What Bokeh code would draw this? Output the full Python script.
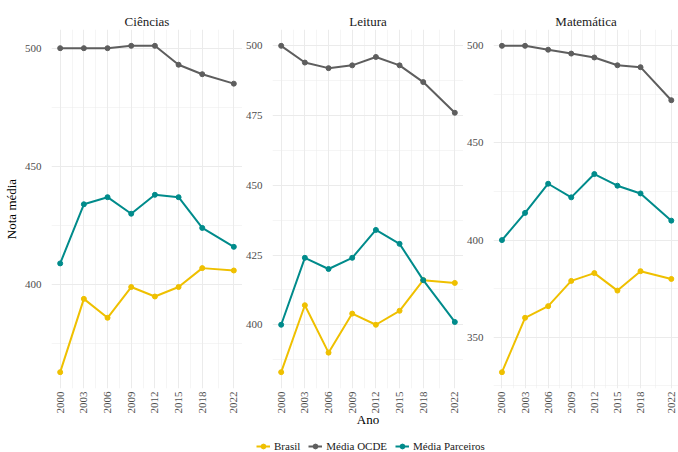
import math

from bokeh.embed import file_html
from bokeh.layouts import column, row
from bokeh.models import FixedTicker, Legend, LegendItem, Range1d
from bokeh.plotting import figure
from bokeh.resources import INLINE

# PISA: nota média por disciplina e ano
anos = [2000, 2003, 2006, 2009, 2012, 2015, 2018, 2022]
anos_minor = [2001.5, 2004.5, 2007.5, 2010.5, 2013.5, 2016.5, 2020]

series = ["Brasil", "Média OCDE", "Média Parceiros"]
cores = ["#EFC000", "#5E5E5E", "#008B8B"]

disciplinas = ["Ciências", "Leitura", "Matemática"]

ciencias_brasil = [363, 394, 386, 399, 395, 399, 407, 406]
ciencias_ocde = [500, 500, 500, 501, 501, 493, 489, 485]
ciencias_parceiros = [409, 434, 437, 430, 438, 437, 424, 416]

leitura_brasil = [383, 407, 390, 404, 400, 405, 416, 415]
leitura_ocde = [500, 494, 492, 493, 496, 493, 487, 476]
leitura_parceiros = [400, 424, 420, 424, 434, 429, 416, 401]

matematica_brasil = [332, 360, 366, 379, 383, 374, 384, 380]
matematica_ocde = [500, 500, 498, 496, 494, 490, 489, 472]
matematica_parceiros = [400, 414, 429, 422, 434, 428, 424, 410]

ticks_ciencias = [400, 450, 500]
minor_ciencias = [375, 425, 475]
ticks_leitura = [400, 425, 450, 475, 500]
minor_leitura = [387.5, 412.5, 437.5, 462.5, 487.5]
ticks_matematica = [350, 400, 450, 500]
minor_matematica = [325, 375, 425, 475]

valores = {
    "Ciências": [ciencias_brasil, ciencias_ocde, ciencias_parceiros],
    "Leitura": [leitura_brasil, leitura_ocde, leitura_parceiros],
    "Matemática": [matematica_brasil, matematica_ocde, matematica_parceiros],
}
ticks_y = {
    "Ciências": (ticks_ciencias, minor_ciencias),
    "Leitura": (ticks_leitura, minor_leitura),
    "Matemática": (ticks_matematica, minor_matematica),
}

FONTE = "Liberation Serif"
GRADE = "#EBEBEB"
ALTURA = 434
TOPO = 29
BASE = 46

# expansão de 5% nos eixos, como no ggplot
x_lo = anos[0] - 0.05 * (anos[-1] - anos[0])
x_hi = anos[-1] + 0.05 * (anos[-1] - anos[0])


def painel(nome, largura, borda_esq, x_end, mostra_ylabel, mostra_xlabel):
    dados = valores[nome]
    todos = [v for s in dados for v in s]
    lo, hi = min(todos), max(todos)
    pad = 0.05 * (hi - lo)

    p = figure(
        width=largura, height=ALTURA,
        x_range=Range1d(x_lo, x_end), y_range=Range1d(lo - pad, hi + pad),
        toolbar_location=None, output_backend="svg",
        min_border_left=borda_esq, min_border_right=0,
        min_border_top=TOPO, min_border_bottom=BASE,
        background_fill_color="white", border_fill_color="white",
        outline_line_color=None,
    )
    p.title.text = nome
    p.title.align = "center"
    p.title.text_font = FONTE
    p.title.text_font_size = "13px"
    p.title.text_font_style = "normal"
    p.title.text_color = "#1A1A1A"
    p.title.standoff = 2

    yt, ym = ticks_y[nome]
    p.xaxis.ticker = FixedTicker(ticks=anos, minor_ticks=anos_minor)
    p.yaxis.ticker = FixedTicker(ticks=yt, minor_ticks=ym)
    p.xgrid.ticker = FixedTicker(ticks=anos, minor_ticks=anos_minor)
    p.ygrid.ticker = FixedTicker(ticks=yt, minor_ticks=ym)

    for g in (p.xgrid, p.ygrid):
        g.grid_line_color = GRADE
        g.grid_line_width = 1
        g.minor_grid_line_color = GRADE
        g.minor_grid_line_width = 0.5

    for ax in (p.xaxis, p.yaxis):
        ax.axis_line_color = None
        ax.major_tick_line_color = None
        ax.minor_tick_line_color = None
        ax.major_label_text_font = FONTE
        ax.major_label_text_font_size = "11px"
        ax.major_label_text_color = "#4D4D4D"
        ax.axis_label_text_font = FONTE
        ax.axis_label_text_font_size = "13px"
        ax.axis_label_text_font_style = "normal"
        ax.axis_label_text_color = "#000000"

    p.xaxis.major_tick_out = 0
    p.xaxis.minor_tick_out = 0
    p.xaxis.major_label_orientation = math.pi / 2
    p.xaxis.major_label_standoff = 3
    # o título "Ano" vai em todos os painéis para manter a altura igual,
    # mas só aparece no painel do meio
    p.xaxis.axis_label = "Ano"
    p.xaxis.axis_label_standoff = -5
    if not mostra_xlabel:
        p.xaxis.axis_label_text_alpha = 0

    p.yaxis.major_label_standoff = 4
    if mostra_ylabel:
        p.yaxis.axis_label = "Nota média"
        p.yaxis.axis_label_standoff = 3

    for serie, cor in zip(dados, cores):
        p.line(anos, serie, line_color=cor, line_width=2)
        p.scatter(anos, serie, size=5, fill_color=cor, line_color=cor)
    return p


# último painel um pouco comprimido para o rótulo 2022 caber na janela
x_end_3 = x_lo + 189 / ((671 - 498) / (anos[-1] - anos[0]))

p1 = painel("Ciências", 242, 46, x_hi, True, False)
p2 = painel("Leitura", 221, 25, x_hi, False, True)
p3 = painel("Matemática", 215, 25, x_end_3, False, False)

# legenda comum, abaixo dos painéis
LEG_H = 18
leg = figure(
    width=678, height=LEG_H, toolbar_location=None, output_backend="svg",
    x_range=Range1d(0, 678), y_range=Range1d(0, LEG_H),
    x_axis_type=None, y_axis_type=None,
    min_border=0, outline_line_color=None,
)
leg.grid.visible = False

itens = []
for nome, serie, cor in zip(series, valores["Ciências"], cores):
    # séries fora da faixa visível: servem só de amostra para a legenda
    rl = leg.line(anos, serie, line_color=cor, line_width=2)
    rs = leg.scatter(anos, serie, size=5, fill_color=cor, line_color=cor)
    itens.append(LegendItem(label=nome, renderers=[rl, rs]))
legenda = Legend(
    items=itens, orientation="horizontal", location=(256, 0),
    border_line_color=None, background_fill_alpha=0,
    padding=0, margin=0, spacing=8,
    glyph_width=14, glyph_height=12, label_height=12, label_standoff=4,
    label_text_font=FONTE, label_text_font_size="11px",
    label_text_color="#1A1A1A",
)
leg.add_layout(legenda)

layout = column(row(p1, p2, p3), leg)

with open("out.html", "w") as f:
    f.write(file_html(layout, INLINE))
